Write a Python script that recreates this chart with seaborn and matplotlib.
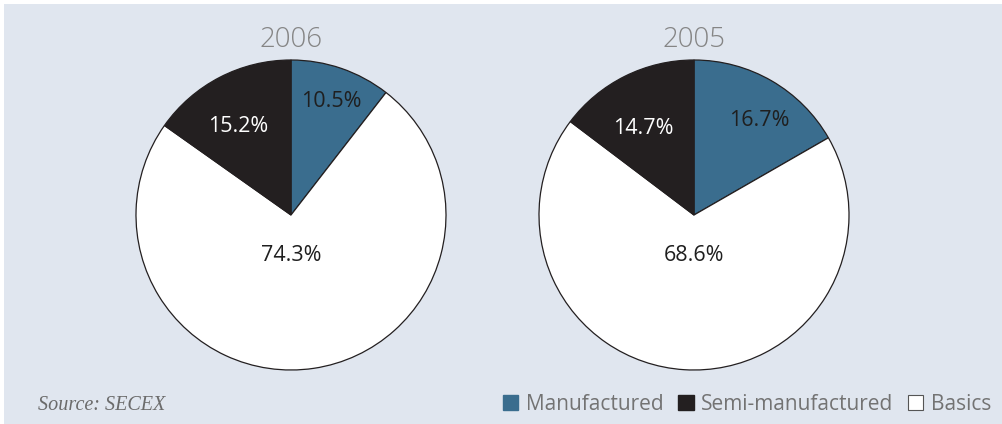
import matplotlib.pyplot as plt
import matplotlib.patches as mpatches
import seaborn as sns

years = ["2006", "2005"]
categories = ["Manufactured", "Basics", "Semi-manufactured"]
shares_2006 = [10.5, 74.3, 15.2]
shares_2005 = [16.7, 68.6, 14.7]
colors = ["#3a6d8e", "#ffffff", "#231f20"]

sns.set_style("white")
plt.rcParams['font.family'] = ['Open Sans', 'DejaVu Sans']

W, H = 1003, 424
fig = plt.figure(figsize=(W / 100, H / 100), dpi=100)
fig.patch.set_facecolor("white")
bg = mpatches.Rectangle((4 / W, 0), 1, (H - 4) / H, transform=fig.transFigure,
                        facecolor="#e0e6ef", edgecolor="none", zorder=-10)
fig.patches.append(bg)

radius_px = 155
centers = [(291, 215), (694, 215)]
# where each percentage label sits inside the pie (pie radius = 1)
label_spots = [
    [(0.26, 0.73), (0, -0.26), (-0.34, 0.57)],
    [(0.42, 0.61), (0, -0.26), (-0.33, 0.56)],
]
label_colors = ["#1f1f1f", "#1f1f1f", "white"]

for year, shares, (cx, cy), spots in zip(years, [shares_2006, shares_2005], centers, label_spots):
    ax = fig.add_axes([(cx - radius_px) / W, (H - cy - radius_px) / H,
                       2 * radius_px / W, 2 * radius_px / H])
    wedges, texts, autotexts = ax.pie(
        shares, colors=colors, startangle=90, counterclock=False,
        autopct=lambda p: f"{p:.1f}%",
        wedgeprops=dict(edgecolor="#231f20", linewidth=0.9),
        textprops=dict(fontsize=15.5),
    )
    for w in wedges:
        w.set_clip_on(False)
    for t, pos, c in zip(autotexts, spots, label_colors):
        t.set_position(pos)
        t.set_color(c)
    ax.set_xlim(-1, 1)
    ax.set_ylim(-1, 1)
    ax.set_aspect("equal")
    ax.axis("off")
    fig.text(cx / W, 1 - 40 / H, year, ha="center", va="center", fontsize=20,
             color="#858585", fontweight="light")

fig.text(38 / W, 19 / H, "Source: SECEX", ha="left", va="center", fontsize=14.5,
         color="#6b6b6b", style="italic", family="Liberation Serif")

handles = [mpatches.Patch(facecolor=colors[0], edgecolor=colors[0]),
           mpatches.Patch(facecolor=colors[2], edgecolor=colors[2]),
           mpatches.Patch(facecolor=colors[1], edgecolor="#555555", linewidth=0.8)]
labels = [categories[0], categories[2], categories[1]]
leg = fig.legend(handles, labels, loc="center right", bbox_to_anchor=(991 / W, 20 / H),
                 ncol=3, frameon=False, fontsize=15, handlelength=0.75, handleheight=0.75,
                 handletextpad=0.35, columnspacing=0.7, borderpad=0, borderaxespad=0)
for t in leg.get_texts():
    t.set_color("#737373")

plt.savefig("out.png", dpi=100)
